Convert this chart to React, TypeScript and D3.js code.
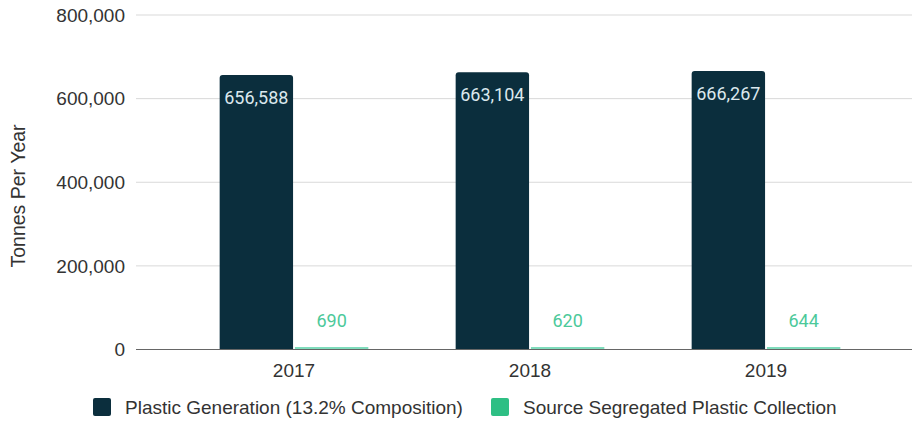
import React from "react";
import * as d3 from "d3";

const years = ["2017", "2018", "2019"];
const seriesNames = ["Plastic Generation (13.2% Composition)", "Source Segregated Plastic Collection"];
const plasticGeneration = [656588, 663104, 666267];
const segregatedCollection = [690, 620, 644];
const yTicks = [0, 200000, 400000, 600000, 800000];

const colors = ["#0b2e3d", "#2ebf84"];
const labelColors = ["#dbe8ee", "#4cc99a"];

export default function App() {
  const W = 912, H = 421;
  const y = d3.scaleLinear().domain([0, 800000]).range([349.5, 15]);
  const x0 = d3.scaleBand().domain(years).range([176, 884]).paddingInner(0.37).paddingOuter(0.185);
  const x1 = d3.scaleBand().domain(seriesNames).range([0, x0.bandwidth()]).paddingInner(0.025);
  const fmt = d3.format(",");
  const data = [plasticGeneration, segregatedCollection];
  const font = "Liberation Sans, Arial, sans-serif";
  const lblFont = "Roboto, sans-serif";

  return (
    <svg width={W} height={H} style={{ position: "absolute", left: 0, top: 0, background: "#fff" }}>
      {yTicks.map((t) => (
        <g key={t}>
          {t !== 0 && <line x1={136} x2={912} y1={y(t)} y2={y(t)} stroke="#d9d9d9" strokeWidth={1} />}
          <text x={125} y={y(t)} dy="0.35em" textAnchor="end" fontFamily={font} fontSize={19} fill="#333">
            {fmt(t)}
          </text>
        </g>
      ))}
      <text
        transform={`translate(25,196) rotate(-90)`}
        textAnchor="middle"
        fontFamily={font}
        fontSize={19.5}
        fill="#333"
      >
        Tonnes Per Year
      </text>
      {years.map((yr, i) => (
        <g key={yr} transform={`translate(${x0(yr)},0)`}>
          {seriesNames.map((s, j) => {
            const v = data[j][i];
            const top = y(v);
            const h = Math.max(y(0) - top, 2.5);
            const bx = x1(s)!;
            const bw = x1.bandwidth();
            const r = j === 0 ? 3 : 0;
            const path = `M${bx},${y(0)} V${y(0) - h + r} Q${bx},${y(0) - h} ${bx + r},${y(0) - h} H${bx + bw - r} Q${bx + bw},${y(0) - h} ${bx + bw},${y(0) - h + r} V${y(0)} Z`;
            return (
              <g key={s}>
                <path d={path} fill={j === 0 ? colors[0] : "#7fdcbc"} />
                <text
                  x={bx + bw / 2}
                  y={j === 0 ? top + 29 : top - 22}
                  textAnchor="middle"
                  fontFamily={lblFont}
                  fontSize={18}
                  fill={labelColors[j]}
                >
                  {fmt(v)}
                </text>
              </g>
            );
          })}
          <text x={x0.bandwidth() / 2} y={377} textAnchor="middle" fontFamily={font} fontSize={19} fill="#333">
            {yr}
          </text>
        </g>
      ))}
      <line x1={136} x2={912} y1={y(0)} y2={y(0)} stroke="#666" strokeWidth={1.2} />
      {seriesNames.map((s, j) => {
        const lx = j === 0 ? 93 : 491;
        return (
          <g key={s}>
            <rect x={lx} y={398} width={18} height={18} rx={2} fill={colors[j]} />
            <text x={lx + 32} y={414} fontFamily={font} fontSize={19} fill="#333">
              {s}
            </text>
          </g>
        );
      })}
    </svg>
  );
}
